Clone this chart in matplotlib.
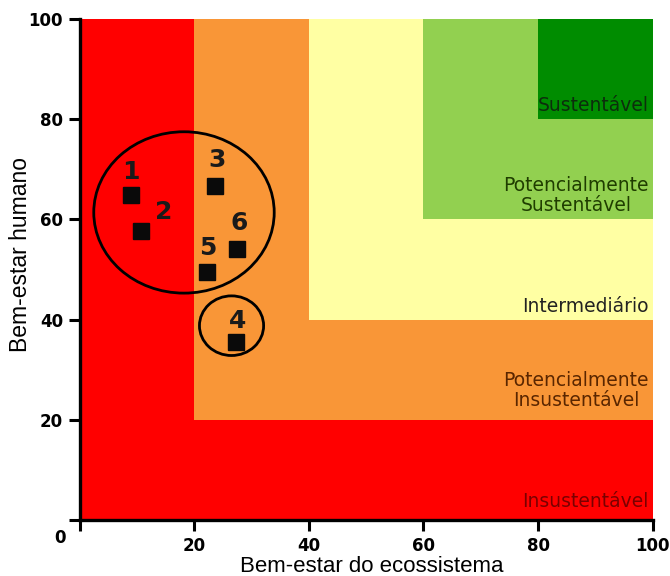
"""Barometer of sustainability chart with six assessed points."""

import matplotlib

matplotlib.use("Agg")
import matplotlib.pyplot as plt
from matplotlib.patches import Ellipse, Rectangle

# zone lower-left corners (x, y) going from worst to best
ZONE_LOWER = [0, 20, 40, 60, 80]
ZONE_COLORS = ["#ff0000", "#f99637", "#ffffa3", "#92d050", "#008c00"]
ZONE_NAMES = [
    "Insustentável",
    "Potencialmente\nInsustentável",
    "Intermediário",
    "Potencialmente\nSustentável",
    "Sustentável",
]
ZONE_LABEL_Y = [3.7, 25.8, 42.6, 64.8, 82.8]
ZONE_TEXT_COLORS = ["#7a0000", "#5a2600", "#222222", "#1f3d00", "#0c2e0c"]

# assessed points
POINT_IDS = ["1", "2", "3", "4", "5", "6"]
POINT_X = [8.9, 10.7, 23.7, 27.2, 22.2, 27.5]
POINT_Y = [64.8, 57.6, 66.6, 35.5, 49.5, 54.2]
LABEL_X = [8.9, 14.7, 23.9, 27.5, 22.4, 27.9]
LABEL_Y = [69.5, 61.4, 71.8, 39.8, 54.4, 59.3]

# grouping ellipses: center x, center y, width, height
GROUP_CX = [18.2, 26.5]
GROUP_CY = [61.4, 38.8]
GROUP_W = [31.5, 11.2]
GROUP_H = [32.2, 11.9]

TICKS = [0, 20, 40, 60, 80, 100]

fig = plt.figure(figsize=(6.7, 5.76), dpi=100)
ax = fig.add_axes([0.119, 0.097, 0.855, 0.870])

for lo, color in zip(ZONE_LOWER, ZONE_COLORS):
    ax.add_patch(Rectangle((lo, lo), 100 - lo, 100 - lo, facecolor=color, edgecolor="none", zorder=0))

for name, ly, tc in zip(ZONE_NAMES, ZONE_LABEL_Y, ZONE_TEXT_COLORS):
    ax.text(99.3, ly, name, ha="right", va="center", fontsize=13.5, color=tc,
            linespacing=1.05, multialignment="center", family="DejaVu Sans", zorder=3)

ax.plot(POINT_X, POINT_Y, linestyle="none", marker="s", markersize=11.5,
        color="#0a0a0a", zorder=4)
for pid, lx, ly in zip(POINT_IDS, LABEL_X, LABEL_Y):
    ax.text(lx, ly, pid, ha="center", va="center", fontsize=18, fontweight="bold",
            color="#1a1a1a", zorder=4)

for cx, cy, w, h in zip(GROUP_CX, GROUP_CY, GROUP_W, GROUP_H):
    ax.add_patch(Ellipse((cx, cy), w, h, facecolor="none", edgecolor="black", linewidth=2.0, zorder=5))

ax.set_xlim(0, 100)
ax.set_ylim(0, 100)
ax.set_xticks(TICKS)
ax.set_yticks(TICKS)
ax.set_xticklabels([""] + [str(t) for t in TICKS[1:]])
ax.set_yticklabels([""] + [str(t) for t in TICKS[1:]])
ax.tick_params(direction="out", length=8, width=2.2, labelsize=12, pad=4)
for lab in ax.get_xticklabels() + ax.get_yticklabels():
    lab.set_fontweight("bold")
ax.text(-0.025, -0.035, "0", transform=ax.transAxes, ha="right", va="center",
        fontsize=12, fontweight="bold")

for side in ["top", "right"]:
    ax.spines[side].set_visible(False)
for side in ["left", "bottom"]:
    ax.spines[side].set_linewidth(2.4)

ax.set_xlabel("Bem-estar do ecossistema", fontsize=16, family="Liberation Sans")
ax.xaxis.set_label_coords(0.51, -0.072)
ax.set_ylabel("Bem-estar humano", fontsize=16.5, family="Liberation Sans")
ax.yaxis.set_label_coords(-0.083, 0.53)

fig.savefig("out.png", dpi=100, facecolor="white")
